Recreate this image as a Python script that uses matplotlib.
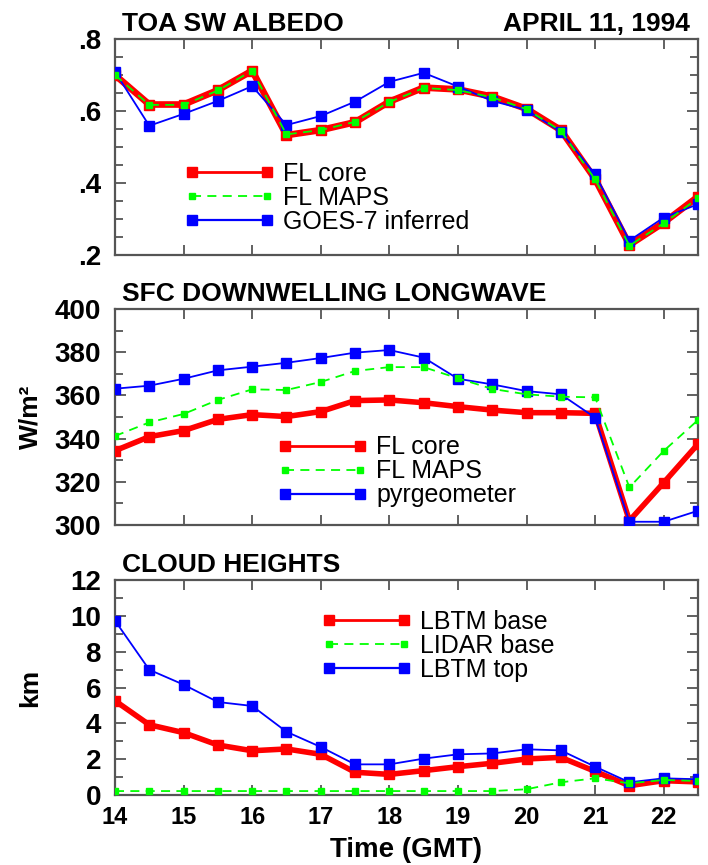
import matplotlib
matplotlib.use("Agg")
import matplotlib.pyplot as plt
from matplotlib.lines import Line2D
from matplotlib.ticker import MultipleLocator, FixedLocator, FuncFormatter

plt.rcParams['font.family'] = ['Liberation Sans', 'DejaVu Sans']

# Time axis (GMT hours), half-hourly
hours = [14.0, 14.5, 15.0, 15.5, 16.0, 16.5, 17.0, 17.5, 18.0,
         18.5, 19.0, 19.5, 20.0, 20.5, 21.0, 21.5, 22.0, 22.5]

# TOA shortwave albedo
albedo_fl_core = [0.700, 0.618, 0.618, 0.658, 0.712, 0.533, 0.547, 0.569, 0.626,
                  0.665, 0.660, 0.640, 0.606, 0.547, 0.411, 0.228, 0.290, 0.362]
albedo_fl_maps = [0.700, 0.617, 0.617, 0.657, 0.712, 0.535, 0.547, 0.570, 0.625,
                  0.664, 0.658, 0.638, 0.605, 0.545, 0.410, 0.226, 0.288, 0.358]
albedo_goes7 = [0.709, 0.559, 0.592, 0.628, 0.669, 0.561, 0.586, 0.626, 0.681,
                0.706, 0.668, 0.628, 0.603, 0.542, 0.424, 0.240, 0.304, 0.341]

# Surface downwelling longwave (W/m^2)
lw_fl_core = [334.4, 340.9, 343.7, 348.9, 351.1, 350.2, 352.5, 357.6, 357.9,
              356.6, 354.8, 353.2, 352.0, 352.0, 351.7, 302.0, 319.6, 337.5]
lw_fl_maps = [341.2, 347.5, 351.4, 357.9, 362.8, 362.5, 366.2, 371.3, 373.1,
              373.1, 367.9, 363.0, 360.5, 359.4, 359.1, 317.4, 334.3, 348.6]
lw_pyrgeometer = [363.1, 364.5, 367.7, 371.6, 373.3, 375.1, 377.3, 379.8, 381.0,
                  377.5, 367.7, 365.1, 362.0, 360.5, 349.7, 301.5, 301.5, 306.6]

# Cloud heights (km)
lbtm_base = [5.26, 3.92, 3.48, 2.79, 2.47, 2.57, 2.27, 1.27, 1.15,
             1.36, 1.58, 1.77, 2.01, 2.10, 1.32, 0.52, 0.80, 0.73]
lidar_base = [0.22, 0.22, 0.22, 0.22, 0.22, 0.22, 0.22, 0.22, 0.22,
              0.22, 0.22, 0.22, 0.32, 0.71, 0.93, 0.65, 0.84, 0.78]
lbtm_top = [9.73, 6.99, 6.16, 5.19, 4.97, 3.53, 2.68, 1.71, 1.71,
            2.03, 2.27, 2.32, 2.55, 2.49, 1.58, 0.71, 0.93, 0.88]

hour_ticks = [14, 15, 16, 17, 18, 19, 20, 21, 22]
albedo_ticks = [0.2, 0.4, 0.6, 0.8]
albedo_labels = ['.2', '.4', '.6', '.8']

RED, GREEN, BLUE = '#ff0000', '#00ff00', '#0000ff'
SPINE = '#555555'

fig = plt.figure(figsize=(7.08, 8.65), dpi=100)
W, H = 708.0, 865.0
left, right = 115, 698
boxes = [(39, 255), (309, 525), (580, 795)]
axes = []
for top, bot in boxes:
    ax = fig.add_axes([left / W, 1 - bot / H, (right - left) / W, (bot - top) / H])
    axes.append(ax)


def style(ax, ymin, ymax, major, minor):
    ax.set_xlim(14, 22.5)
    ax.set_ylim(ymin, ymax)
    ax.xaxis.set_major_locator(FixedLocator(hour_ticks))
    ax.yaxis.set_major_locator(MultipleLocator(major))
    ax.yaxis.set_minor_locator(MultipleLocator(minor))
    for s in ax.spines.values():
        s.set_color(SPINE)
        s.set_linewidth(1.6)
    ax.tick_params(axis='both', which='both', direction='in', color=SPINE,
                   top=True, right=True, width=1.3)
    ax.tick_params(axis='x', which='major', length=7)
    ax.tick_params(axis='y', which='major', length=8)
    ax.tick_params(axis='y', which='minor', length=6)
    ax.tick_params(axis='y', labelsize=20, pad=10)
    ax.tick_params(axis='x', labelsize=17, pad=8)


def series(ax, y_core, y_maps, y_third, core_lw=4.0):
    ax.plot(hours, y_core, color=RED, lw=core_lw, marker='s', ms=7.5,
            mec=RED, mfc=RED, solid_joinstyle='round', zorder=3)
    ax.plot(hours, y_third, color=BLUE, lw=1.3, marker='s', ms=6.5,
            mec=BLUE, mfc=BLUE, zorder=4)
    ax.plot(hours, y_maps, color=GREEN, lw=1.3, ls=(0, (5, 3.5)), marker='s',
            ms=4.0, mec=GREEN, mfc=GREEN, zorder=5)


def legend(ax, labels, anchor):
    handles = [
        Line2D([], [], color=RED, lw=2.0, marker='s', ms=7.5, mec=RED, mfc=RED),
        Line2D([], [], color=GREEN, lw=1.3, ls=(0, (5, 3.5)), marker='s', ms=4.0,
               mec=GREEN, mfc=GREEN),
        Line2D([], [], color=BLUE, lw=1.6, marker='s', ms=6.5, mec=BLUE, mfc=BLUE),
    ]
    ax.legend(handles, labels, loc='upper left', bbox_to_anchor=anchor,
              frameon=False, numpoints=2, handlelength=3.6, handletextpad=0.34,
              labelspacing=0.0, borderpad=0, borderaxespad=0,
              prop={'size': 18})


def titles(ax, text_left, text_right=None):
    ax.text(0.012, 1.037, text_left, transform=ax.transAxes, ha='left',
            va='baseline', fontsize=19, fontweight='bold')
    if text_right:
        ax.text(0.986, 1.037, text_right, transform=ax.transAxes, ha='right',
                va='baseline', fontsize=19, fontweight='bold')


# Panel 1: albedo
ax1 = axes[0]
series(ax1, albedo_fl_core, albedo_fl_maps, albedo_goes7, core_lw=4.8)
style(ax1, 0.2, 0.8, 0.2, 0.05)
ax1.yaxis.set_major_locator(FixedLocator(albedo_ticks))
ax1.yaxis.set_major_formatter(FuncFormatter(
    lambda v, p: dict(zip(albedo_ticks, albedo_labels)).get(round(v, 2), '')))
ax1.set_xticklabels([])
titles(ax1, 'TOA SW ALBEDO', 'APRIL 11, 1994')
legend(ax1, ['FL core', 'FL MAPS', 'GOES-7 inferred'], (0.119, 0.43))

# Panel 2: longwave
ax2 = axes[1]
series(ax2, lw_fl_core, lw_fl_maps, lw_pyrgeometer)
style(ax2, 300, 400, 20, 10)
ax2.set_xticklabels([])
ax2.set_ylabel('W/m²', fontsize=19, fontweight='bold')
ax2.yaxis.set_label_coords(-0.125, 0.5)
titles(ax2, 'SFC DOWNWELLING LONGWAVE')
legend(ax2, ['FL core', 'FL MAPS', 'pyrgeometer'], (0.279, 0.415))

# Panel 3: cloud heights
ax3 = axes[2]
series(ax3, lbtm_base, lidar_base, lbtm_top)
style(ax3, 0, 12, 2, 1)
ax3.set_ylabel('km', fontsize=19, fontweight='bold')
ax3.yaxis.set_label_coords(-0.125, 0.5)
ax3.set_xlabel('Time (GMT)', fontsize=20, fontweight='bold', labelpad=6)
titles(ax3, 'CLOUD HEIGHTS')
legend(ax3, ['LBTM base', 'LIDAR base', 'LBTM top'], (0.354, 0.86))

for ax in axes:
    for lab in ax.get_yticklabels() + ax.get_xticklabels():
        lab.set_fontweight('bold')

fig.savefig('out.png', dpi=100, facecolor='white')
